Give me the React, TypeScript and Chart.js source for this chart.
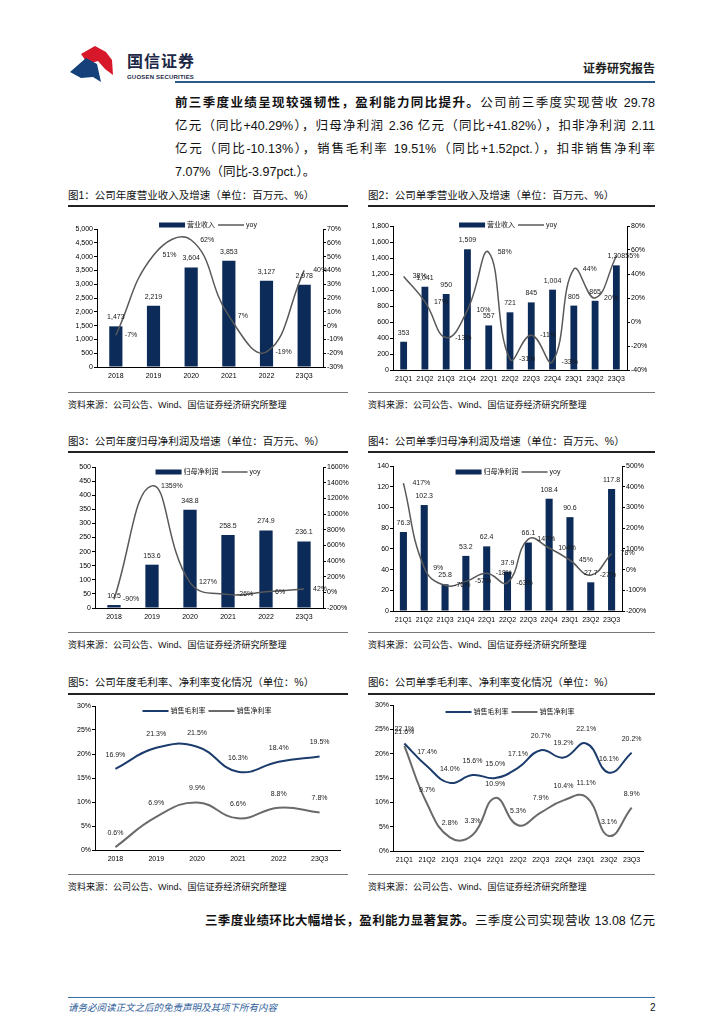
import React, { useEffect, useRef } from 'react';
import { Chart, registerables } from 'chart.js';

Chart.register(...registerables);

const FONT = "'Liberation Sans', 'Noto Sans CJK SC', sans-serif";
const NAVY = '#0C2B58';
const GRAY = '#595959';
const LINE_NAVY = '#1B3C6C';
const LINE_GRAY = '#6A6A6A';

// ---------- data ----------
const annualCats = ['2018', '2019', '2020', '2021', '2022', '23Q3'];
const quarterCats = ['21Q1', '21Q2', '21Q3', '21Q4', '22Q1', '22Q2', '22Q3', '22Q4', '23Q1', '23Q2', '23Q3'];

const annualRevenue = [1473, 2219, 3604, 3853, 3127, 2978];
const annualRevenueYoy = [-7, 51, 62, 7, -19, 40];

const quarterRevenue = [353, 1041, 950, 1509, 557, 721, 845, 1004, 805, 865, 1308];
const quarterRevenueYoy = [38, 17, -13, 10, 58, -31, -11, -33, 44, 20, 55];

const annualProfit = [10.5, 153.6, 348.8, 258.5, 274.9, 236.1];
const annualProfitYoy = [-90, 1359, 127, -26, 6, 42];

const quarterProfit = [76.3, 102.3, 25.8, 53.2, 62.4, 37.9, 66.1, 108.4, 90.6, 27.7, 117.8];
const quarterProfitYoy = [417, 9, -76, -57, -18, -63, 147, 104, 45, -27, 78];

const annualGross = [16.9, 21.3, 21.5, 16.3, 18.4, 19.5];
const annualNet = [0.6, 6.9, 9.9, 6.6, 8.8, 7.8];

const quarterGross = [22.1, 17.4, 14.0, 15.6, 15.0, 17.1, 20.7, 19.2, 22.1, 16.1, 20.2];
const quarterNet = [21.6, 9.7, 2.8, 3.3, 10.9, 5.3, 7.9, 10.4, 11.1, 3.1, 8.9];

// ---------- helpers ----------
const fmtThousands = (v: number) => v.toLocaleString('en-US');
const fmtOne = (v: number) => v.toFixed(1);
const fmtPct = (v: number) => `${v}%`;
const fmtPctOne = (v: number) => `${v.toFixed(1)}%`;

const valueLabelPlugin = {
  id: 'valueLabels',
  afterDatasetsDraw(chart: any) {
    const ctx = chart.ctx;
    chart.data.datasets.forEach((ds: any, i: number) => {
      const cfg = ds.valueLabel;
      if (!cfg) return;
      const meta = chart.getDatasetMeta(i);
      ctx.save();
      ctx.font = `7px ${FONT}`;
      ctx.fillStyle = '#1a1a1a';
      meta.data.forEach((el: any, j: number) => {
        const text = cfg.fmt(ds.data[j]);
        if (cfg.pos === 'top') {
          ctx.textAlign = 'center';
          ctx.textBaseline = 'middle';
          ctx.fillText(text, el.x, el.y - 9);
        } else if (cfg.pos === 'right') {
          ctx.textAlign = 'left';
          ctx.textBaseline = 'middle';
          ctx.fillText(text, el.x + 9, el.y);
        } else {
          ctx.textAlign = 'center';
          ctx.textBaseline = 'middle';
          ctx.fillText(text, el.x, el.y - 14);
        }
      });
      ctx.restore();
    });
  },
};

// legend drawn inside the plot, centred, in one row
const inlineLegendPlugin = {
  id: 'inlineLegend',
  afterDraw(chart: any, _args: any, opts: any) {
    const ctx = chart.ctx;
    const cy = opts.cy;
    const cx = opts.cx;
    const sw = 26;
    const gap = 2;
    const sep = 3;
    ctx.save();
    ctx.font = `7px ${FONT}`;
    const items = chart.data.datasets.map((ds: any) => ({
      label: ds.label,
      bar: ds.type === 'bar',
      color: ds.type === 'bar' ? ds.backgroundColor : ds.borderColor,
      lw: ds.borderWidth,
      tw: ctx.measureText(ds.label).width,
    }));
    const total = items.reduce((s: number, it: any) => s + sw + gap + it.tw, 0) + sep * (items.length - 1);
    let x = cx - total / 2;
    items.forEach((it: any) => {
      if (it.bar) {
        ctx.fillStyle = it.color;
        ctx.fillRect(x, cy - 2.5, sw, 5);
      } else {
        ctx.strokeStyle = it.color;
        ctx.lineWidth = it.lw;
        ctx.beginPath();
        ctx.moveTo(x, cy);
        ctx.lineTo(x + sw, cy);
        ctx.stroke();
      }
      ctx.fillStyle = '#111';
      ctx.textAlign = 'left';
      ctx.textBaseline = 'middle';
      ctx.fillText(it.label, x + sw + gap, cy);
      x += sw + gap + it.tw + sep;
    });
    ctx.restore();
  },
};

interface AxisSpec {
  min: number;
  max: number;
  step: number;
  fmt: (v: number) => string;
}

interface ChartSpec {
  type: 'bar' | 'line';
  cats: string[];
  width: number;
  height: number;
  area: { l: number; r: number; t: number; b: number };
  legend: { cx: number; cy: number };
  datasets: any[];
  yLeft: AxisSpec;
  yRight?: AxisSpec;
  xPad: number;
}

function buildChart(canvas: HTMLCanvasElement, spec: ChartSpec) {
  const { width, height, area } = spec;
  const tickFont = { family: FONT, size: 7 };
  const yAxis = (ax: AxisSpec, position: 'left' | 'right', w: number) => ({
    position,
    min: ax.min,
    max: ax.max,
    ticks: {
      stepSize: ax.step,
      font: tickFont,
      color: '#000',
      padding: 1,
      callback: (v: any) => ax.fmt(Number(v)),
    },
    grid: { display: true, drawOnChartArea: false, drawTicks: true, tickLength: 3, color: '#000', lineWidth: 1 },
    border: { display: true, color: '#000', width: 1 },
    afterFit: (s: any) => {
      s.width = w;
    },
  });
  const scales: any = {
    x: {
      type: 'category',
      offset: true,
      grid: { display: false, drawTicks: false },
      border: { display: true, color: '#000', width: 1 },
      ticks: { font: tickFont, color: '#000', padding: spec.xPad, maxRotation: 0, minRotation: 0, autoSkip: false },
      afterFit: (s: any) => {
        s.height = height - area.b;
      },
    },
    y: yAxis(spec.yLeft, 'left', area.l),
  };
  if (spec.yRight) scales.y1 = yAxis(spec.yRight, 'right', width - area.r);

  return new Chart(canvas, {
    type: spec.type,
    data: { labels: spec.cats, datasets: spec.datasets },
    options: {
      responsive: false,
      maintainAspectRatio: false,
      animation: false,
      devicePixelRatio: 1,
      events: [],
      layout: { padding: { top: area.t, left: 0, bottom: 0, right: spec.yRight ? 0 : width - area.r } },
      plugins: {
        tooltip: { enabled: false },
        legend: { display: false },
        inlineLegend: spec.legend,
      },
      scales,
    } as any,
    plugins: [valueLabelPlugin, inlineLegendPlugin],
  });
}

function barDs(label: string, data: number[], pct: number, fmt: (v: number) => string) {
  return {
    type: 'bar',
    label,
    data,
    backgroundColor: NAVY,
    borderWidth: 0,
    barPercentage: 1,
    categoryPercentage: pct,
    yAxisID: 'y',
    order: 1,
    valueLabel: { pos: 'top', fmt },
  };
}

function yoyDs(data: number[]) {
  return {
    type: 'line',
    label: 'yoy',
    data,
    borderColor: GRAY,
    backgroundColor: GRAY,
    borderWidth: 1.5,
    pointRadius: 0,
    tension: 0.45,
    yAxisID: 'y1',
    order: 0,
    valueLabel: { pos: 'right', fmt: fmtPct },
  };
}

function marginDs(label: string, data: number[], color: string) {
  return {
    type: 'line',
    label,
    data,
    borderColor: color,
    backgroundColor: color,
    borderWidth: 2,
    pointRadius: 0,
    tension: 0.45,
    yAxisID: 'y',
    valueLabel: { pos: 'above', fmt: fmtPctOne },
  };
}

const CW = 290;

const specs: { left: number; top: number; spec: ChartSpec }[] = [
  {
    left: 62,
    top: 208,
    spec: {
      type: 'bar',
      cats: annualCats,
      width: CW,
      height: 180,
      area: { l: 35, r: 261, t: 21, b: 159 },
      legend: { cx: 146, cy: 17 },
      datasets: [barDs('营业收入', annualRevenue, 0.35, fmtThousands), yoyDs(annualRevenueYoy)],
      yLeft: { min: 0, max: 5000, step: 500, fmt: fmtThousands },
      yRight: { min: -30, max: 70, step: 10, fmt: fmtPct },
      xPad: 5,
    },
  },
  {
    left: 362,
    top: 208,
    spec: {
      type: 'bar',
      cats: quarterCats,
      width: CW,
      height: 180,
      area: { l: 31, r: 265, t: 18, b: 162 },
      legend: { cx: 146, cy: 17 },
      datasets: [barDs('营业收入', quarterRevenue, 0.32, fmtThousands), yoyDs(quarterRevenueYoy)],
      yLeft: { min: 0, max: 1800, step: 200, fmt: fmtThousands },
      yRight: { min: -40, max: 80, step: 20, fmt: fmtPct },
      xPad: 5,
    },
  },
  {
    left: 62,
    top: 453,
    spec: {
      type: 'bar',
      cats: annualCats,
      width: CW,
      height: 175,
      area: { l: 33, r: 261, t: 14, b: 155 },
      legend: { cx: 146, cy: 19 },
      datasets: [barDs('归母净利润', annualProfit, 0.35, fmtOne), yoyDs(annualProfitYoy)],
      yLeft: { min: 0, max: 500, step: 50, fmt: (v) => `${v}` },
      yRight: { min: -200, max: 1600, step: 200, fmt: fmtPct },
      xPad: 5,
    },
  },
  {
    left: 362,
    top: 453,
    spec: {
      type: 'bar',
      cats: quarterCats,
      width: CW,
      height: 175,
      area: { l: 31, r: 260, t: 13, b: 158 },
      legend: { cx: 146, cy: 19 },
      datasets: [barDs('归母净利润', quarterProfit, 0.34, fmtOne), yoyDs(quarterProfitYoy)],
      yLeft: { min: 0, max: 140, step: 20, fmt: (v) => `${v}` },
      yRight: { min: -200, max: 500, step: 100, fmt: fmtPct },
      xPad: 5,
    },
  },
  {
    left: 62,
    top: 695,
    spec: {
      type: 'line',
      cats: annualCats,
      width: CW,
      height: 175,
      area: { l: 33, r: 278, t: 11, b: 155 },
      legend: { cx: 145, cy: 16 },
      datasets: [marginDs('销售毛利率', annualGross, LINE_NAVY), marginDs('销售净利率', annualNet, LINE_GRAY)],
      yLeft: { min: 0, max: 30, step: 5, fmt: fmtPct },
      xPad: 5,
    },
  },
  {
    left: 362,
    top: 695,
    spec: {
      type: 'line',
      cats: quarterCats,
      width: CW,
      height: 175,
      area: { l: 31, r: 281, t: 10, b: 156 },
      legend: { cx: 148, cy: 17 },
      datasets: [marginDs('销售毛利率', quarterGross, LINE_NAVY), marginDs('销售净利率', quarterNet, LINE_GRAY)],
      yLeft: { min: 0, max: 30, step: 5, fmt: fmtPct },
      xPad: 5,
    },
  },
];

function ChartBox({ left, top, spec }: { left: number; top: number; spec: ChartSpec }) {
  const ref = useRef<HTMLCanvasElement | null>(null);
  useEffect(() => {
    if (!ref.current) return;
    const c = buildChart(ref.current, spec);
    return () => c.destroy();
  }, []);
  return (
    <div style={{ position: 'absolute', left, top, width: spec.width, height: spec.height }}>
      <canvas ref={ref} width={spec.width} height={spec.height} style={{ width: spec.width, height: spec.height, display: 'block' }} />
    </div>
  );
}

const CJK = "'Liberation Sans', 'Noto Sans CJK SC', sans-serif";

function Text({ x, y, size, children, style }: { x: number; y: number; size: number; children: React.ReactNode; style?: React.CSSProperties }) {
  return (
    <div
      style={{
        position: 'absolute',
        left: x,
        top: y - size * 0.7,
        fontSize: size,
        lineHeight: `${size * 1.4}px`,
        fontFamily: CJK,
        whiteSpace: 'nowrap',
        color: '#111',
        ...style,
      }}
    >
      {children}
    </div>
  );
}

function Rule({ x, y, w, h, color }: { x: number; y: number; w: number; h: number; color: string }) {
  return <div style={{ position: 'absolute', left: x, top: y, width: w, height: h, background: color }} />;
}

function JLine({ y, children, last }: { y: number; children: React.ReactNode; last?: boolean }) {
  return (
    <div
      style={{
        position: 'absolute',
        left: 175,
        top: y - 9,
        width: 480,
        fontSize: 12.5,
        lineHeight: '18px',
        fontFamily: CJK,
        color: '#111',
        textAlign: 'justify',
        textAlignLast: last ? 'left' : 'justify',
      } as React.CSSProperties}
    >
      {children}
    </div>
  );
}

const titles = [
  { x: 68, y: 195, t: '图1：公司年度营业收入及增速（单位：百万元、%）' },
  { x: 368, y: 195, t: '图2：公司单季营业收入及增速（单位：百万元、%）' },
  { x: 68, y: 441, t: '图3：公司年度归母净利润及增速（单位：百万元、%）' },
  { x: 368, y: 441, t: '图4：公司单季归母净利润及增速（单位：百万元、%）' },
  { x: 68, y: 682, t: '图5：公司年度毛利率、净利率变化情况（单位：%）' },
  { x: 368, y: 682, t: '图6：公司单季毛利率、净利率变化情况（单位：%）' },
];
const titleRules = [205, 451, 693];
const bottomRules = [392, 632, 874];
const SOURCE = '资料来源：公司公告、Wind、国信证券经济研究所整理';

export default function App() {
  return (
    <div style={{ position: 'absolute', left: 0, top: 0, width: 724, height: 1024, background: '#fff', overflow: 'hidden' }}>
      {/* logo */}
      <svg style={{ position: 'absolute', left: 66, top: 42 }} width={52} height={44} viewBox="0 0 52 44">
        <polygon points="15,12 29,4 40,10 46,18 47,33 39,27 32,19 22,22" fill="#D7182A" />
        <polygon points="4,30 20,16 31,22 35,40 27,35 15,36" fill="#16407A" />
      </svg>
      <Text x={127} y={62} size={16} style={{ fontWeight: 700, color: '#1c2846', letterSpacing: 1 }}>
        国信证券
      </Text>
      <Text x={127} y={77} size={6} style={{ fontWeight: 700, color: '#1c2846', letterSpacing: 0.2 }}>
        GUOSEN SECURITIES
      </Text>
      <div
        style={{
          position: 'absolute',
          right: 724 - 655,
          top: 61,
          fontSize: 12,
          lineHeight: '16px',
          fontWeight: 700,
          fontFamily: CJK,
          color: '#222',
        }}
      >
        证券研究报告
      </div>
      <Rule x={175} y={81} w={480} h={2} color="#2A5A8C" />

      <JLine y={103}>
        <b>前三季度业绩呈现较强韧性，盈利能力同比提升。</b>公司前三季度实现营收 29.78
      </JLine>
      <JLine y={126}>亿元（同比+40.29%），归母净利润 2.36 亿元（同比+41.82%），扣非净利润 2.11</JLine>
      <JLine y={149}>亿元（同比-10.13%），销售毛利率 19.51%（同比+1.52pct.），扣非销售净利率</JLine>
      <JLine y={172} last>
        7.07%（同比-3.97pct.）。
      </JLine>

      {titles.map((t, i) => (
        <Text key={i} x={t.x} y={t.y} size={10.5}>
          {t.t}
        </Text>
      ))}
      {titleRules.map((y, i) => (
        <React.Fragment key={i}>
          <Rule x={68} y={y} w={280} h={1.5} color="#222" />
          <Rule x={368} y={y} w={287} h={1.5} color="#222" />
        </React.Fragment>
      ))}
      {bottomRules.map((y, i) => (
        <React.Fragment key={i}>
          <Rule x={68} y={y} w={280} h={1} color="#777" />
          <Rule x={368} y={y} w={287} h={1} color="#777" />
          <Text x={68} y={y + 13} size={9}>
            {SOURCE}
          </Text>
          <Text x={368} y={y + 13} size={9}>
            {SOURCE}
          </Text>
        </React.Fragment>
      ))}

      {specs.map((s, i) => (
        <ChartBox key={i} left={s.left} top={s.top} spec={s.spec} />
      ))}

      <div
        style={{
          position: 'absolute',
          left: 205,
          top: 921 - 9,
          width: 450,
          fontSize: 12.5,
          lineHeight: '18px',
          fontFamily: CJK,
          color: '#111',
          textAlign: 'justify',
          textAlignLast: 'justify',
        } as React.CSSProperties}
      >
        <b>三季度业绩环比大幅增长，盈利能力显著复苏。</b>三季度公司实现营收 13.08 亿元
      </div>

      <Rule x={68} y={997} w={587} h={1} color="#3A6EA5" />
      <Text x={68} y={1008} size={9.5} style={{ fontStyle: 'italic', color: '#2F5E9B' }}>
        请务必阅读正文之后的免责声明及其项下所有内容
      </Text>
      <Text x={650} y={1008} size={10} style={{ color: '#111' }}>
        2
      </Text>
    </div>
  );
}
